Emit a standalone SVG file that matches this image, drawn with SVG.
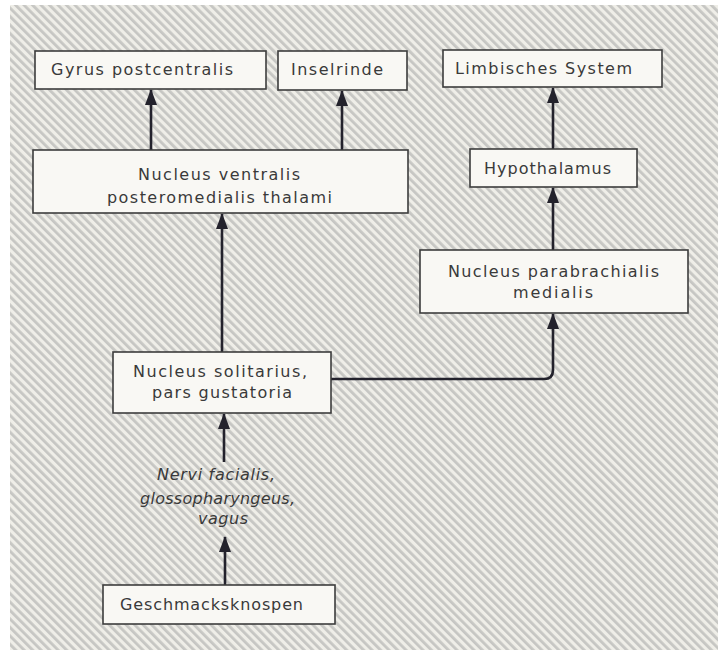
<svg xmlns="http://www.w3.org/2000/svg" width="718" height="650" viewBox="0 0 718 650">
  <defs>
    <pattern id="hatch" width="6" height="6" patternUnits="userSpaceOnUse" patternTransform="rotate(-45)">
      <rect width="6" height="6" fill="#efeee8"/>
      <rect width="2.8" height="6" fill="#c6c6c3"/>
    </pattern>
    <marker id="arr" viewBox="0 0 16 12" refX="15" refY="6" markerWidth="17" markerHeight="12" markerUnits="userSpaceOnUse" orient="auto">
      <path d="M0,0 L16,6 L0,12 z" fill="#23222c"/>
    </marker>
    <style>
      .box { fill: #f9f8f4; stroke: #3c3c3c; stroke-width: 1.6; }
      .t { font-family: "DejaVu Sans", "Liberation Sans", sans-serif; font-size: 16px; fill: #3a3a3a; }
      .i { font-style: italic; }
      .c { fill: none; stroke: #23222c; stroke-width: 2.6; marker-end: url(#arr); }
    </style>
  </defs>
  <rect width="718" height="650" fill="#ffffff"/>
  <rect x="10" y="5" width="708" height="645" fill="url(#hatch)"/>

  <g id="connectors">
    <path class="c" d="M151,150 V90"/>
    <path class="c" d="M342,150 V91"/>
    <path class="c" d="M553,149 V88"/>
    <path class="c" d="M553,250 V188"/>
    <path class="c" d="M222,352 V214"/>
    <path class="c" d="M331,379 H544 Q553,379 553,370 V314"/>
    <path class="c" d="M224,462 V414"/>
    <path class="c" d="M225,585 V537"/>
  </g>

  <g id="gyrus">
    <rect class="box" x="35" y="51" width="231" height="38"/>
    <text class="t" x="51" y="75" textLength="182" lengthAdjust="spacing">Gyrus postcentralis</text>
  </g>
  <g id="inselrinde">
    <rect class="box" x="278" y="51" width="129" height="39"/>
    <text class="t" x="291" y="75" textLength="92" lengthAdjust="spacing">Inselrinde</text>
  </g>
  <g id="limbisch">
    <rect class="box" x="443" y="50" width="219" height="37"/>
    <text class="t" x="455" y="74" textLength="177" lengthAdjust="spacing">Limbisches System</text>
  </g>
  <g id="thalamus">
    <rect class="box" x="33" y="150" width="375" height="63"/>
    <text class="t" x="138" y="180" textLength="162" lengthAdjust="spacing">Nucleus ventralis</text>
    <text class="t" x="107" y="203" textLength="225" lengthAdjust="spacing">posteromedialis thalami</text>
  </g>
  <g id="hypothalamus">
    <rect class="box" x="470" y="149" width="167" height="38"/>
    <text class="t" x="484" y="174" textLength="127" lengthAdjust="spacing">Hypothalamus</text>
  </g>
  <g id="parabrachialis">
    <rect class="box" x="420" y="250" width="268" height="63"/>
    <text class="t" x="448" y="277" textLength="211" lengthAdjust="spacing">Nucleus parabrachialis</text>
    <text class="t" x="513" y="298" textLength="80" lengthAdjust="spacing">medialis</text>
  </g>
  <g id="solitarius">
    <rect class="box" x="113" y="352" width="218" height="61"/>
    <text class="t" x="133" y="377" textLength="174" lengthAdjust="spacing">Nucleus solitarius,</text>
    <text class="t" x="152" y="398" textLength="140" lengthAdjust="spacing">pars gustatoria</text>
  </g>
  <g id="nerven">
    <text class="t i" x="157" y="480" textLength="118" lengthAdjust="spacing">Nervi facialis,</text>
    <text class="t i" x="140" y="504" textLength="155" lengthAdjust="spacing">glossopharyngeus,</text>
    <text class="t i" x="198" y="524" textLength="50" lengthAdjust="spacing">vagus</text>
  </g>
  <g id="geschmacksknospen">
    <rect class="box" x="103" y="585" width="232" height="39"/>
    <text class="t" x="120" y="610" textLength="183" lengthAdjust="spacing">Geschmacksknospen</text>
  </g>
</svg>
